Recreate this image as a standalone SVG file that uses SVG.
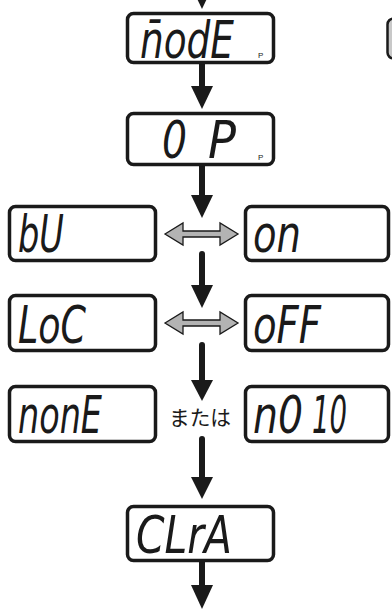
<svg xmlns="http://www.w3.org/2000/svg" width="392" height="609" viewBox="0 0 392 609">
<style>
.box{fill:#fff;stroke:#1a1a1a;stroke-width:3.5}
.seg{font-family:"DejaVu Sans Condensed","DejaVu Sans",sans-serif;font-style:oblique;font-size:52px;fill:#1a1a1a}
.p{font-family:"Liberation Sans",sans-serif;font-size:8px;fill:#1a1a1a}
.jp{font-family:"Noto Sans CJK JP",sans-serif;font-size:21px;fill:#1a1a1a}
.shaft{stroke:#1a1a1a;stroke-width:6;stroke-linecap:round;fill:none}
.head{fill:#1a1a1a}
.dbl{fill:#b3b3b3;stroke:#1a1a1a;stroke-width:1.3;stroke-linejoin:miter}
</style>
<rect x="387.5" y="18.5" width="20" height="40" rx="6" fill="#c8c8c8" stroke="#1a1a1a" stroke-width="2.5"/>
<g id="connectors">
<polygon class="head" points="191,-14 213,-14 202,9"/>
<line class="shaft" x1="202" y1="64" x2="202" y2="88" style="stroke-linecap:butt"/>
<polygon class="head" points="191,86 213,86 202,109"/>
<line class="shaft" x1="202" y1="166" x2="202" y2="197" style="stroke-linecap:butt"/>
<polygon class="head" points="191,195 213,195 202,218"/>
<line class="shaft" x1="202" y1="254" x2="202" y2="287"/>
<polygon class="head" points="191,285 213,285 202,308"/>
<line class="shaft" x1="202" y1="345" x2="202" y2="382"/>
<polygon class="head" points="191,380 213,380 202,401"/>
<line class="shaft" x1="202" y1="439" x2="202" y2="479"/>
<polygon class="head" points="191,477 213,477 202,499"/>
<line class="shaft" x1="202" y1="562" x2="202" y2="587" style="stroke-linecap:butt"/>
<polygon class="head" points="191,585 213,585 202,609"/>
<polygon class="dbl" points="165,234 183,223 183,231 220,231 220,223 238,234 220,245 220,237 183,237 183,245"/>
<polygon class="dbl" points="165,323 183,312 183,320 220,320 220,312 238,323 220,334 220,326 183,326 183,334"/>
</g>
<g id="node-mode">
<rect class="box" x="127.5" y="13.5" width="146" height="49" rx="6"/>
<text class="seg" x="140" y="58" textLength="94" lengthAdjust="spacingAndGlyphs">n̄odE</text>
<text class="p" x="258" y="58">P</text>
</g>
<g id="node-op">
<rect class="box" x="127.5" y="113.5" width="146" height="51" rx="6"/>
<text class="seg" y="158"><tspan x="162" textLength="25" lengthAdjust="spacingAndGlyphs">0</tspan><tspan x="208" textLength="28" lengthAdjust="spacingAndGlyphs">P</tspan></text>
<text class="p" x="258" y="160">P</text>
</g>
<g id="node-bu">
<rect class="box" x="9.5" y="206.5" width="146" height="54" rx="6"/>
<text class="seg" x="18" y="252" textLength="46" lengthAdjust="spacingAndGlyphs">bU</text>
</g>
<g id="node-on">
<rect class="box" x="245.5" y="206.5" width="143" height="54" rx="6"/>
<text class="seg" x="253" y="252" textLength="48" lengthAdjust="spacingAndGlyphs">on</text>
</g>
<g id="node-loc">
<rect class="box" x="9.5" y="295.5" width="146" height="55" rx="6"/>
<text class="seg" x="18" y="343" textLength="68" lengthAdjust="spacingAndGlyphs">LoC</text>
</g>
<g id="node-off">
<rect class="box" x="245.5" y="295.5" width="143" height="55" rx="6"/>
<text class="seg" x="253" y="343" textLength="68" lengthAdjust="spacingAndGlyphs">oFF</text>
</g>
<g id="node-none">
<rect class="box" x="9.5" y="386.5" width="146" height="55" rx="6"/>
<text class="seg" x="18" y="433" textLength="84" lengthAdjust="spacingAndGlyphs">nonE</text>
</g>
<g id="label-or">
<text class="jp" x="169" y="425" textLength="62" lengthAdjust="spacingAndGlyphs">または</text>
</g>
<g id="node-n010">
<rect class="box" x="245.5" y="386.5" width="143" height="55" rx="6"/>
<text class="seg" y="433"><tspan x="253" textLength="50" lengthAdjust="spacingAndGlyphs">n0</tspan><tspan x="312" textLength="35" lengthAdjust="spacingAndGlyphs">10</tspan></text>
</g>
<g id="node-clra">
<rect class="box" x="127.5" y="506.5" width="146" height="54" rx="6"/>
<text class="seg" x="136" y="553" textLength="96" lengthAdjust="spacingAndGlyphs">CLrA</text>
</g>
</svg>
